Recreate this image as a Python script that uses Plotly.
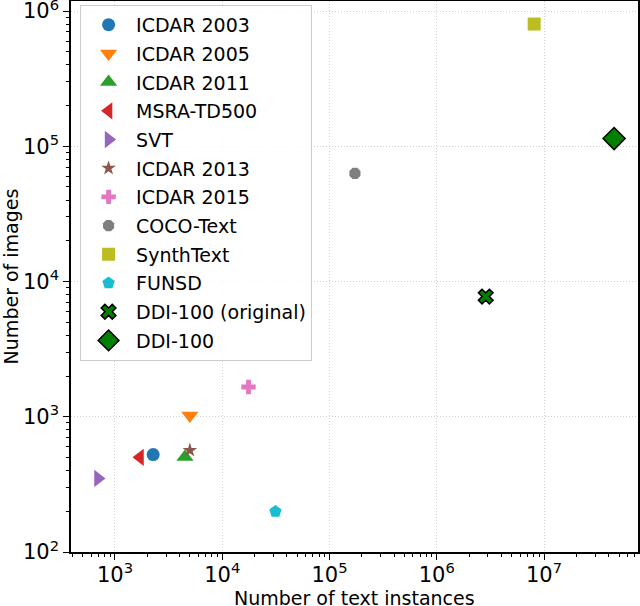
import plotly.graph_objects as go

# datasets: text instances vs images
names = ["ICDAR 2003", "ICDAR 2005", "ICDAR 2011", "MSRA-TD500", "SVT",
         "ICDAR 2013", "ICDAR 2015", "COCO-Text", "SynthText", "FUNSD",
         "DDI-100 (original)", "DDI-100"]
text_instances = [2270, 4990, 4490, 1710, 695, 4990, 17580, 172600,
                  8090000, 31330, 2860000, 45000000]
num_images = [525, 1020, 505, 501, 350, 565, 1659, 63000, 801000, 199,
              7740, 114000]

symbols = ["circle", "triangle-down", "triangle-up", "triangle-left",
           "triangle-right", "star", "cross", "octagon", "square",
           "pentagon", "x", "diamond"]
colors = ["#1f77b4", "#ff7f0e", "#2ca02c", "#d62728", "#9467bd", "#8c564b",
          "#e377c2", "#7f7f7f", "#bcbd22", "#17becf", "#008000", "#008000"]
sizes = [13, 15, 15, 15, 15, 11, 12, 12, 13, 13, 13, 17]

x_major = [1e3, 1e4, 1e5, 1e6, 1e7]
x_labels = ["10<sup>3</sup>", "10<sup>4</sup>", "10<sup>5</sup>",
            "10<sup>6</sup>", "10<sup>7</sup>"]
y_major = [1e2, 1e3, 1e4, 1e5, 1e6]
y_labels = ["10<sup>2</sup>", "10<sup>3</sup>", "10<sup>4</sup>",
            "10<sup>5</sup>", "10<sup>6</sup>"]

x_minor = [k * 10 ** n for n in range(2, 8) for k in range(2, 10)]
y_minor = [k * 10 ** n for n in range(2, 7) for k in range(2, 10)]

fig = go.Figure()
for i, name in enumerate(names):
    edge = "black" if name.startswith("DDI") else colors[i]
    edge_w = 1.5 if name.startswith("DDI") else 0
    fig.add_trace(go.Scatter(
        x=[text_instances[i]],
        y=[num_images[i]],
        mode="markers",
        name=name,
        legendgroup=name,
        marker=dict(symbol=symbols[i], color=colors[i], size=sizes[i],
                    line=dict(color=edge, width=edge_w)),
    ))

axis_font = dict(family="DejaVu Sans", size=21, color="black")
title_font = dict(family="DejaVu Sans", size=19, color="black")

fig.update_layout(
    width=640,
    height=606,
    margin=dict(l=71, r=2, t=1, b=54),
    paper_bgcolor="white",
    plot_bgcolor="white",
    font=dict(family="DejaVu Sans", size=19, color="black"),
    legend=dict(
        x=0.016, y=0.993, xanchor="left", yanchor="top",
        bgcolor="rgba(255,255,255,0.8)",
        bordercolor="#cccccc", borderwidth=1,
        font=dict(family="DejaVu Sans", size=19, color="black"),
        tracegroupgap=1,
        itemwidth=45,
    ),
    xaxis=dict(
        type="log",
        range=[2.59, 7.876],
        automargin=False,
        tickmode="array", tickvals=x_major, ticktext=x_labels,
        tickfont=axis_font,
        ticks="outside", ticklen=6, tickcolor="black",
        ticklabeloverflow="allow", ticklabelstandoff=-3,
        showline=True, linecolor="black", linewidth=1.5, mirror=True,
        showgrid=True, gridcolor="#d0d0d0", griddash="1px,2px", gridwidth=1,
        zeroline=False,
        minor=dict(tickmode="array", tickvals=x_minor, ticks="outside",
                   ticklen=3, tickcolor="black", showgrid=False),
    ),
    yaxis=dict(
        type="log",
        range=[2.0, 6.074],
        automargin=False,
        tickmode="array", tickvals=y_major, ticktext=y_labels,
        tickfont=axis_font,
        ticks="outside", ticklen=6, tickcolor="black",
        ticklabeloverflow="allow",
        showline=True, linecolor="black", linewidth=1.5, mirror=True,
        showgrid=True, gridcolor="#d0d0d0", griddash="1px,2px", gridwidth=1,
        zeroline=False,
        minor=dict(tickmode="array", tickvals=y_minor, ticks="outside",
                   ticklen=3, tickcolor="black", showgrid=False),
        title=dict(text="Number of images", font=title_font, standoff=0),
    ),
)

# x title placed by hand so it clears the superscript tick labels
fig.add_annotation(
    text="Number of text instances",
    xref="paper", yref="paper", x=0.5, y=-0.084,
    xanchor="center", yanchor="middle",
    showarrow=False, font=title_font,
)

# the page body has a default 8px margin; drop it so the figure sits at 0,0
fig.write_html("out.html", config={"displayModeBar": False},
               post_script="document.body.style.margin='0px';")
